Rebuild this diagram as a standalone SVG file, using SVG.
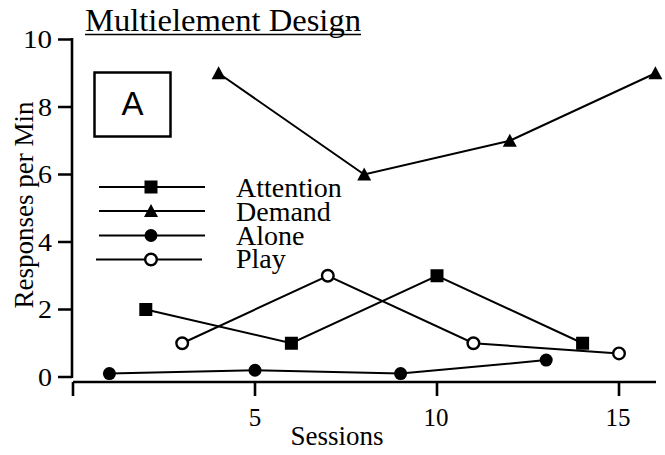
<svg xmlns="http://www.w3.org/2000/svg" width="665" height="455" viewBox="0 0 665 455">
<style>
.t{font-family:"Liberation Serif","Times New Roman",serif;fill:#000}
.ax{stroke:#000;stroke-width:2.6;fill:none}
.ln{stroke:#000;stroke-width:2;fill:none}
.lg{stroke:#000;stroke-width:1.8;fill:none}
</style>
<defs>
<rect id="sq" x="-6.5" y="-6.5" width="13" height="13" fill="#000"/>
<polygon id="tri" points="0,-7 7,6 -7,6" fill="#000"/>
<circle id="dot" r="6.5" fill="#000"/>
<circle id="ring" r="5.8" fill="#fff" stroke="#000" stroke-width="2.4"/>
</defs>
<rect width="665" height="455" fill="#fff"/>
<g id="title">
<text class="t" x="85" y="31" font-size="32" textLength="276" lengthAdjust="spacingAndGlyphs">Multielement Design</text>
<line x1="85" y1="34.5" x2="361" y2="34.5" stroke="#000" stroke-width="1.6"/>
</g>
<g id="axes">
<path class="ax" d="M72,38 V378 M58,39.5 H72 M58,107 H72 M58,174.5 H72 M58,242 H72 M58,309.5 H72 M58,377 H72"/>
<path class="ax" d="M73,382 H656 M73,382 V396 M255,382 V396 M437,382 V396 M619,382 V396"/>
<g class="t" font-size="25" text-anchor="end" lengthAdjust="spacingAndGlyphs">
<text x="52" y="47.5" textLength="29" lengthAdjust="spacingAndGlyphs">10</text>
<text x="52" y="115.5" textLength="14" lengthAdjust="spacingAndGlyphs">8</text>
<text x="52" y="183" textLength="14" lengthAdjust="spacingAndGlyphs">6</text>
<text x="52" y="250.5" textLength="14" lengthAdjust="spacingAndGlyphs">4</text>
<text x="52" y="318" textLength="14" lengthAdjust="spacingAndGlyphs">2</text>
<text x="52" y="385.5" textLength="14" lengthAdjust="spacingAndGlyphs">0</text>
</g>
<g class="t" font-size="25" text-anchor="middle">
<text x="255" y="426">5</text>
<text x="436" y="426">10</text>
<text x="618" y="426">15</text>
</g>
<text class="t" x="337" y="445" font-size="27" text-anchor="middle">Sessions</text>
<text class="t" font-size="27" text-anchor="middle" transform="translate(33,205) rotate(-90)">Responses per Min</text>
</g>
<g id="label-box">
<rect x="94.5" y="72.5" width="76" height="64" fill="none" stroke="#000" stroke-width="2.5"/>
<text x="132.5" y="115" font-family="Liberation Sans,Arial,sans-serif" font-size="33" text-anchor="middle">A</text>
</g>
<g id="legend">
<line class="lg" x1="99" y1="187" x2="205" y2="187"/>
<line class="lg" x1="99" y1="211" x2="205" y2="211"/>
<line class="lg" x1="99" y1="235.5" x2="205" y2="235.5"/>
<line class="lg" x1="96" y1="259.5" x2="202" y2="259.5"/>
<use href="#sq" x="151" y="187"/>
<use href="#tri" x="151" y="211"/>
<use href="#dot" x="151" y="235.5"/>
<use href="#ring" x="151" y="259.5"/>
<g class="t" font-size="28">
<text x="236" y="197">Attention</text>
<text x="236" y="221">Demand</text>
<text x="236" y="245">Alone</text>
<text x="236" y="268">Play</text>
</g>
</g>
<g id="connectors">
<polyline class="ln" points="145.8,309.5 291.4,343.25 437,275.75 582.6,343.25"/>
<polyline class="ln" points="218.6,73.25 364.2,174.5 509.8,140.75 655.4,73.25"/>
<polyline class="ln" points="109.4,373.6 255,370.25 400.6,373.6 546.2,360.1"/>
<polyline class="ln" points="182.2,343.25 327.8,275.75 473.4,343.25 619,353.4"/>
</g>
<g id="attention">
<use href="#sq" x="145.8" y="309.5"/><use href="#sq" x="291.4" y="343.25"/><use href="#sq" x="437" y="275.75"/><use href="#sq" x="582.6" y="343.25"/>
</g>
<g id="demand">
<use href="#tri" x="218.6" y="73.25"/><use href="#tri" x="364.2" y="174.5"/><use href="#tri" x="509.8" y="140.75"/><use href="#tri" x="655.4" y="73.25"/>
</g>
<g id="alone">
<use href="#dot" x="109.4" y="373.6"/><use href="#dot" x="255" y="370.25"/><use href="#dot" x="400.6" y="373.6"/><use href="#dot" x="546.2" y="360.1"/>
</g>
<g id="play">
<use href="#ring" x="182.2" y="343.25"/><use href="#ring" x="327.8" y="275.75"/><use href="#ring" x="473.4" y="343.25"/><use href="#ring" x="619" y="353.4"/>
</g>
</svg>
